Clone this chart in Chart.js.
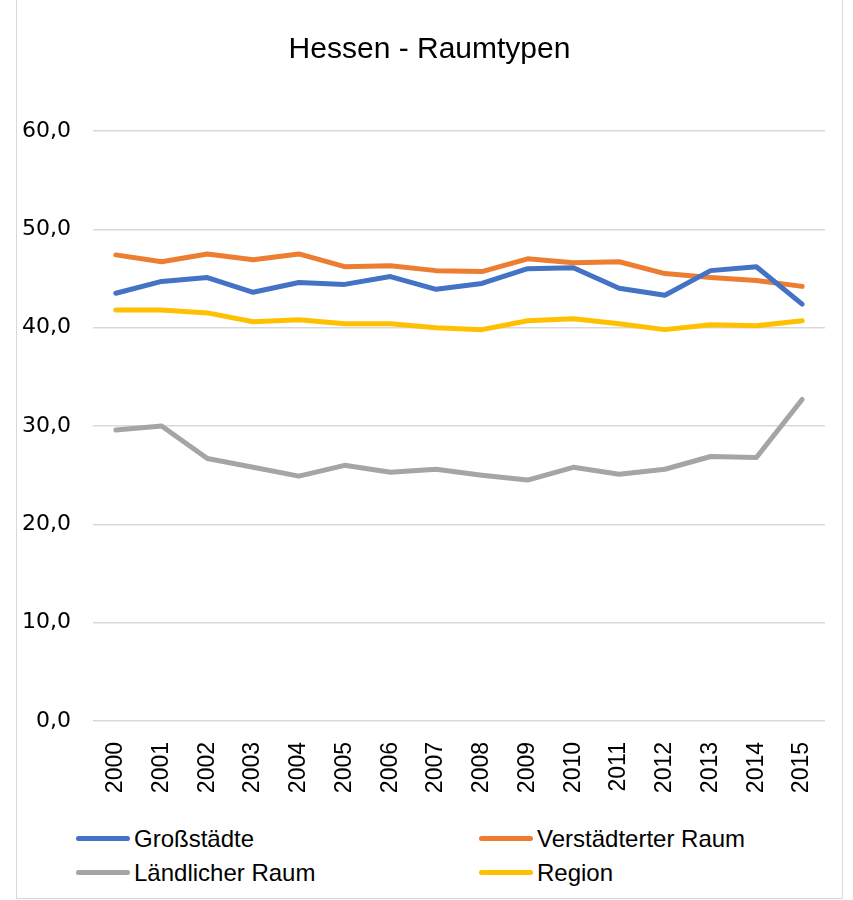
<!DOCTYPE html>
<html lang="de">
<head>
  <meta charset="UTF-8" />
  <title>Hessen - Raumtypen</title>
  <script src="https://cdn.jsdelivr.net/npm/chart.js"></script>
  <style>
    body { margin: 0; background: #fff; }
    .rahmen {
      position: absolute; left: 16px; top: -1px;
      width: 825px; height: 898px;
      border: 1px solid #d9d9d9; background: #fff;
    }
    .grafico { position: absolute; left: 0; top: 0; width: 825px; height: 805px; }
    .legende {
      position: absolute; left: 59px; top: 822px;
      display: grid; grid-template-columns: 403px 300px; row-gap: 1px;
      font-family: "Liberation Sans", sans-serif;
      font-size: 24px; color: #000;
    }
    .item { display: flex; align-items: center; height: 33px; white-space: nowrap; }
    .linie { width: 54px; height: 5px; border-radius: 3px; margin-right: 4px; }
  </style>
</head>
<body>
  <div class="rahmen">
    <div class="grafico"><canvas id="grafico"></canvas></div>
    <div class="legende" id="legende"></div>
  </div>

  <script>
    // Daten
    const jahre = ['2000', '2001', '2002', '2003', '2004', '2005', '2006', '2007',
      '2008', '2009', '2010', '2011', '2012', '2013', '2014', '2015'];
    const grossstaedte = [43.5, 44.7, 45.1, 43.6, 44.6, 44.4, 45.2, 43.9,
      44.5, 46.0, 46.1, 44.0, 43.3, 45.8, 46.2, 42.4];
    const verstaedterterRaum = [47.4, 46.7, 47.5, 46.9, 47.5, 46.2, 46.3, 45.8,
      45.7, 47.0, 46.6, 46.7, 45.5, 45.1, 44.8, 44.2];
    const laendlicherRaum = [29.6, 30.0, 26.7, 25.8, 24.9, 26.0, 25.3, 25.6,
      25.0, 24.5, 25.8, 25.1, 25.6, 26.9, 26.8, 32.7];
    const region = [41.8, 41.8, 41.5, 40.6, 40.8, 40.4, 40.4, 40.0,
      39.8, 40.7, 40.9, 40.4, 39.8, 40.3, 40.2, 40.7];
    const yTicks = [0, 10, 20, 30, 40, 50, 60];

    const serien = [
      { label: 'Großstädte', data: grossstaedte, color: '#4472C4' },
      { label: 'Verstädterter Raum', data: verstaedterterRaum, color: '#ED7D31' },
      { label: 'Ländlicher Raum', data: laendlicherRaum, color: '#A5A5A5' },
      { label: 'Region', data: region, color: '#FFC000' }
    ];

    const dados = {
      labels: jahre,
      datasets: serien.map(s => ({
        label: s.label,
        data: s.data,
        borderColor: s.color,
        backgroundColor: s.color,
        borderWidth: 5,
        pointRadius: 0,
        tension: 0,
        borderCapStyle: 'round',
        borderJoinStyle: 'round'
      }))
    };

    const config = {
      type: 'line',
      data: dados,
      options: {
        responsive: true,
        maintainAspectRatio: false,
        animation: false,
        layout: { padding: 0 },
        plugins: {
          legend: { display: false },
          tooltip: { enabled: false },
          title: {
            display: true,
            text: 'Hessen - Raumtypen',
            color: '#000',
            font: { family: '"Liberation Sans", sans-serif', size: 30, weight: 'normal' },
            padding: { top: 32, bottom: 63 }
          }
        },
        scales: {
          x: {
            offset: true,
            grid: { display: false, drawTicks: false },
            border: { display: false },
            ticks: {
              color: '#000',
              font: { family: '"Liberation Sans", Arial, sans-serif', size: 23 },
              minRotation: 90, maxRotation: 90,
              padding: 21,
              autoSkip: false
            },
            afterFit: scale => {
              scale.height = 84;
              scale.paddingLeft = 0;
              scale.paddingRight = 17;
            }
          },
          y: {
            min: 0, max: 60,
            afterBuildTicks: scale => { scale.ticks = yTicks.map(v => ({ value: v })); },
            grid: { color: '#d9d9d9', lineWidth: 1.5, drawTicks: false },
            border: { display: false },
            ticks: {
              color: '#000',
              font: { family: '"DejaVu Sans", sans-serif', size: 22 },
              padding: 22,
              callback: v => v.toFixed(1).replace('.', ',')
            },
            afterFit: scale => { scale.width = 76; }
          }
        }
      }
    };

    new Chart(document.getElementById('grafico'), config);

    // Legende in zwei Spalten
    const legende = document.getElementById('legende');
    serien.forEach(s => {
      const item = document.createElement('div');
      item.className = 'item';
      const linie = document.createElement('span');
      linie.className = 'linie';
      linie.style.background = s.color;
      const txt = document.createElement('span');
      txt.textContent = s.label;
      item.appendChild(linie);
      item.appendChild(txt);
      legende.appendChild(item);
    });
  </script>
</body>
</html>
